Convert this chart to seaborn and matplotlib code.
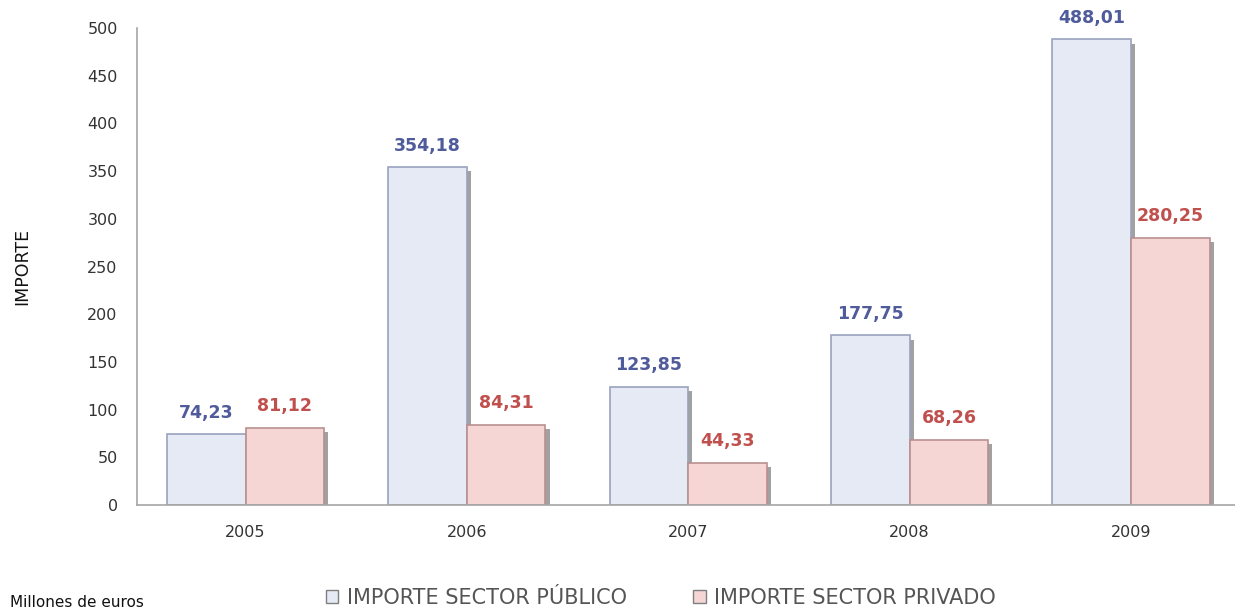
import matplotlib
matplotlib.use("Agg")
import matplotlib.pyplot as plt
import matplotlib.patheffects as pe
from matplotlib.patches import Patch
import seaborn as sns
import pandas as pd

years = ["2005", "2006", "2007", "2008", "2009"]
publico = [74.23, 354.18, 123.85, 177.75, 488.01]
privado = [81.12, 84.31, 44.33, 68.26, 280.25]
series_names = ["IMPORTE SECTOR PÚBLICO", "IMPORTE SECTOR PRIVADO"]
yticks = [0, 50, 100, 150, 200, 250, 300, 350, 400, 450, 500]

df = pd.DataFrame({
    "year": years * 2,
    "value": publico + privado,
    "serie": [series_names[0]] * len(years) + [series_names[1]] * len(years),
})

sns.set_theme(style="white")
plt.rcParams["font.family"] = ["DejaVu Sans"]

fills = {series_names[0]: "#E5EAF4", series_names[1]: "#F5D6D5"}
edges = {series_names[0]: "#9AA3BF", series_names[1]: "#B8908F"}
label_colors = {series_names[0]: "#4F5B9B", series_names[1]: "#C0504D"}

fig = plt.figure(figsize=(12.35, 6.10), dpi=100)
ax = fig.add_axes([0.111, 0.172, 0.889, 0.782])

sns.barplot(data=df, x="year", y="value", hue="serie", palette=fills,
            width=0.71, gap=0.0, ax=ax, legend=False, saturation=1)

for cont, name in zip(ax.containers, series_names):
    for bar in cont:
        bar.set_edgecolor(edges[name])
        bar.set_linewidth(1.2)
        bar.set_path_effects([
            pe.SimplePatchShadow(offset=(3, -3), shadow_rgbFace="#555555", alpha=0.55),
            pe.Normal(),
        ])
    labels = [f"{v:.2f}".replace(".", ",") for v in cont.datavalues]
    ax.bar_label(cont, labels=labels, padding=9, color=label_colors[name],
                 fontsize=12.5, fontweight="bold")

ax.set_ylim(0, 500)
ax.set_xlim(-0.49, 4.47)
ax.set_yticks(yticks)
ax.set_yticklabels([str(t) for t in yticks])
ax.tick_params(axis="both", length=0, labelsize=11.5, colors="#333333")
ax.tick_params(axis="x", pad=14)
ax.tick_params(axis="y", pad=14)
for s in ["top", "right"]:
    ax.spines[s].set_visible(False)
for s in ["left", "bottom"]:
    ax.spines[s].set_color("#A6A6A6")
    ax.spines[s].set_linewidth(1.2)
ax.set_xlabel("")
ax.set_ylabel("IMPORTE", fontsize=12.5, color="#111111", labelpad=40)

handles = [Patch(facecolor=fills[n], edgecolor="#7F7F7F", label=n) for n in series_names]
leg = fig.legend(handles=handles, loc="center", bbox_to_anchor=(0.535, 0.02), ncol=2,
                 frameon=False, handlelength=0.6, handleheight=0.6,
                 handletextpad=0.4, columnspacing=3.2,
                 prop={"family": ["Liberation Sans Narrow", "DejaVu Sans"], "size": 15})
for t in leg.get_texts():
    t.set_color("#555555")

fig.text(0.008, 0.012, "Millones de euros", fontsize=11, color="#111111",
         ha="left", va="center")

fig.savefig("out.png", dpi=100)
